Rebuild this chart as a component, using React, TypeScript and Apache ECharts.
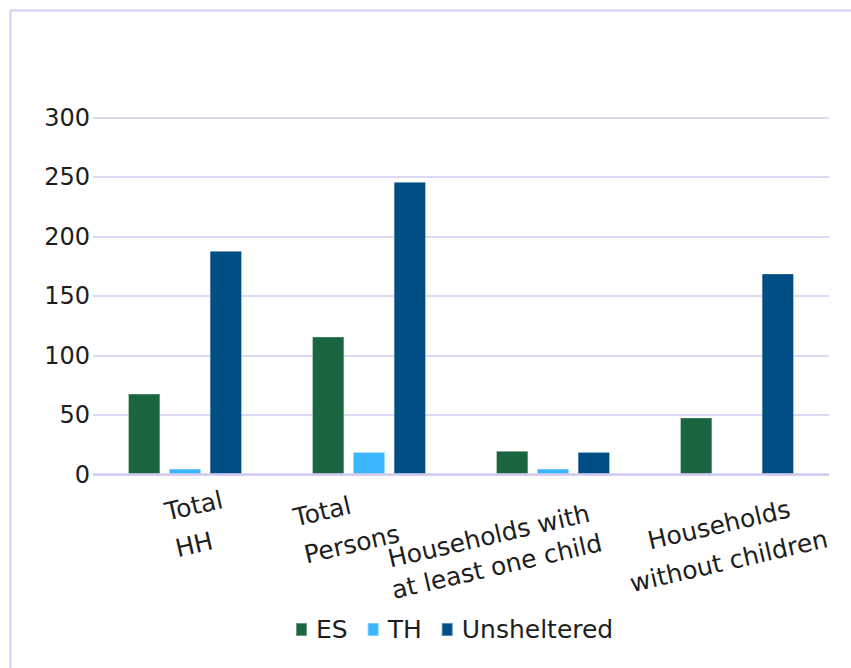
import React, { useEffect, useRef } from "react";
import * as echarts from "echarts";

const categories = [
  "Total\nHH",
  "Total\nPersons",
  "Households with\nat least one child",
  "Households\nwithout children",
];
const esValues = [68, 116, 20, 48];
const thValues = [5, 19, 5, 0];
const unshelteredValues = [188, 246, 19, 169];
const seriesNames = ["ES", "TH", "Unsheltered"];
const yTicks = { min: 0, max: 300, interval: 50 };

const FONT = "DejaVu Sans";

const labelLayout = [
  { l1: { pad: [0, 0, 0, 28], lh: 33 }, l2: { pad: [0, 0, 0, 11], lh: 43 } },
  { l1: { pad: [0, 83, 0, 0], lh: 20 }, l2: { pad: [0, 40, 0, 0], lh: 57 } },
  { l1: { pad: [0, 128, 0, 0], lh: 46 }, l2: { pad: [0, 126, 0, 0], lh: 17 } },
  { l1: { pad: [0, 33, 0, 0], lh: 57 }, l2: { pad: [0, 30, 0, 0], lh: 18 } },
];

export default function App() {
  const ref = useRef<HTMLDivElement>(null);
  useEffect(() => {
    if (!ref.current) return;
    const chart = echarts.init(ref.current, null, { renderer: "svg" });
    const rich: Record<string, any> = {};
    labelLayout.forEach((ll, i) => {
      rich[`a${i}`] = {
        fontFamily: FONT,
        fontSize: 25,
        color: "#1e1e1e",
        padding: ll.l1.pad,
        lineHeight: ll.l1.lh,
      };
      rich[`b${i}`] = {
        fontFamily: FONT,
        fontSize: 25,
        color: "#1e1e1e",
        padding: ll.l2.pad,
        lineHeight: ll.l2.lh,
      };
    });
    const colors = ["#1b6640", "#3ab6ff", "#004e86"];
    const seriesData = [esValues, thValues, unshelteredValues];
    chart.setOption({
      animation: false,
      backgroundColor: "#ffffff",
      color: colors,
      textStyle: { fontFamily: FONT },
      grid: {
        left: 93,
        right: 22,
        top: 117.5,
        bottom: 193.5,
        containLabel: false,
        outerBoundsMode: "none",
      },
      legend: {
        data: seriesNames,
        left: 295,
        top: 617,
        padding: 0,
        itemWidth: 11,
        itemHeight: 13,
        itemGap: 19,
        icon: "rect",
        textStyle: {
          fontFamily: FONT,
          fontSize: 25,
          color: "#1e1e1e",
          padding: [0, 0, 0, 4],
        },
      },
      xAxis: {
        type: "category",
        data: categories,
        axisLine: { show: false },
        axisTick: { show: false },
        axisLabel: {
          interval: 0,
          rotate: 13,
          align: "center",
          verticalAlign: "middle",
          margin: 55.5,
          hideOverlap: false,
          formatter: (value: string, idx: number) => {
            const parts = value.split("\n");
            return `{a${idx}|${parts[0]}}\n{b${idx}|${parts[1]}}`;
          },
          rich,
        },
      },
      yAxis: {
        type: "value",
        min: yTicks.min,
        max: yTicks.max,
        interval: yTicks.interval,
        axisLine: { show: false },
        axisTick: { show: false },
        axisLabel: {
          margin: 3,
          fontFamily: FONT,
          fontSize: 24,
          color: "#1e1e1e",
        },
        splitLine: { lineStyle: { color: "#d2cdf0", width: 1.6 } },
      },
      graphic: [
        {
          type: "rect",
          shape: { x: 10.5, y: 10.5, width: 900, height: 800 },
          style: { fill: "none", stroke: "#d3cff2", lineWidth: 2 },
          silent: true,
          z: 0,
        },
        {
          type: "line",
          shape: { x1: 93, y1: 474.5, x2: 829, y2: 474.5 },
          style: { stroke: "#d2cdf0", lineWidth: 2.6 },
          silent: true,
          z: 5,
        },
      ],
      series: seriesNames.map((name, i) => ({
        name,
        type: "bar",
        data: seriesData[i],
        barWidth: 32.4,
        barGap: "26%",
        itemStyle: {
          color: colors[i],
          borderColor: "rgba(255,255,255,0.35)",
          borderWidth: 1,
        },
        z: 3,
      })),
    });
    return () => chart.dispose();
  }, []);
  return (
    <div
      ref={ref}
      style={{ position: "fixed", left: 0, top: 0, width: 851, height: 668 }}
    />
  );
}
